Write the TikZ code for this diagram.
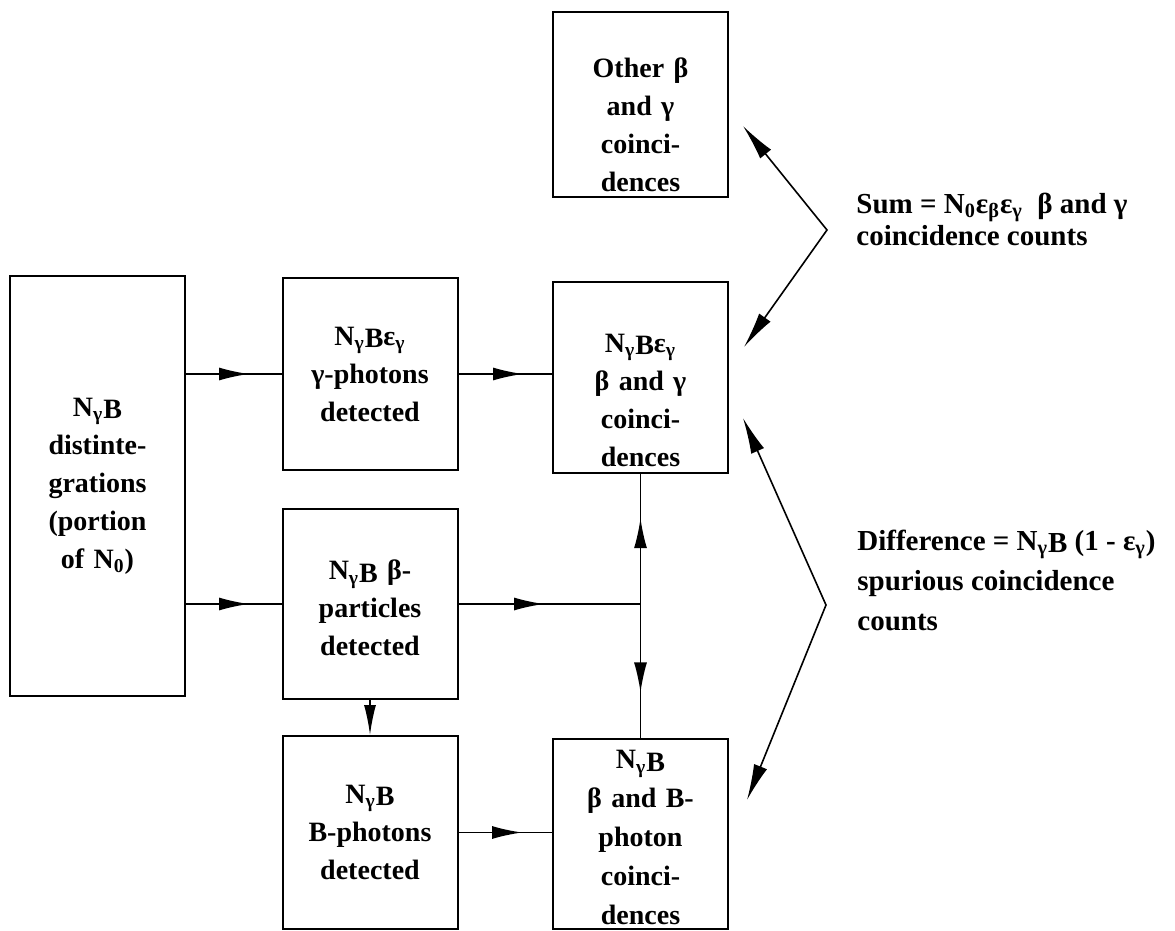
\documentclass[tikz,border=0pt]{standalone}
\usepackage{fontspec}
\setmainfont{Liberation Serif}
\usetikzlibrary{arrows.meta,decorations.markings}

\newcommand{\boxfont}{\bfseries\fontsize{14}{19}\selectfont}
\newcommand{\Ngb}{N\textsubscript{γ}\raisebox{-1.2pt}{B}}
\newcommand{\topgap}[1]{\rule{0pt}{#1}}

\begin{document}
\begin{tikzpicture}[x=0.5pt, y=-0.5pt,
  midarrow/.style={postaction={decorate}, decoration={markings,
    mark=at position #1 with {\arrow{Latex[length=15pt,width=6.5pt]}}}}]
\tikzstyle{block} = [rectangle, draw, line width=1pt, text width=83.5pt,
inner xsep=2pt, inner ysep=0pt, align=center, font=\boxfont]
\tikzstyle{note} = [anchor=west, align=left, inner sep=0pt]
\tikzstyle{line} = [draw, line width=0.8pt]
\tikzstyle{bracket} = [{Latex[length=18pt,width=7pt]}-{Latex[length=18pt,width=7pt]}]

\useasboundingbox (0,0) rectangle (1175,931);

% left column
\node [block, minimum height=210pt] (src) at (97.5,486)
  {\Ngb\\distinte-\\grations\\(portion\\of N\textsubscript{0})};
% middle column
\node [block, minimum height=96pt] (gdet) at (370,374)
  {\Ngb ε\textsubscript{γ}\\γ-photons\\detected};
\node [block, minimum height=95pt] (bdet) at (370,604)
  {\topgap{14pt}\Ngb\ β-\\particles\\detected};
\node [block, minimum height=96.5pt] (Bdet) at (370,832.5)
  {\Ngb\\B-photons\\detected};
% right column
\node [block, minimum height=92.5pt] (other) at (640.5,104.5)
  {\topgap{30pt}Other β\\and γ\\coinci-\\dences};
\node [block, minimum height=95.5pt] (bgc) at (640.5,377.5)
  {\topgap{32pt}\Ngb ε\textsubscript{γ}\\β and γ\\coinci-\\dences};
\node [block, minimum height=95pt, font=\bfseries\fontsize{14}{19.5}\selectfont] (bBc) at (640.5,834)
  {\topgap{13pt}\Ngb\\β and B-\\photon\\coinci-\\dences};

% sums
\node [note, font=\bfseries\fontsize{14.5}{16}\selectfont] (sum) at (856,219)
  {Sum = N\textsubscript{0}ε\textsubscript{β}ε\textsubscript{γ}\ \ β and γ\\coincidence counts};
\node [note, font=\bfseries\fontsize{14.5}{20}\selectfont] (diff) at (857,580)
  {Difference = \Ngb\ (1 - ε\textsubscript{γ})\\spurious coincidence\\counts};

\coordinate (jn) at (bgc.south |- bdet.east);
\coordinate (sumv) at (827,230);
\coordinate (sumup) at (743,126);
\coordinate (sumdn) at (744,347);
\coordinate (diffv) at (826,605);
\coordinate (diffup) at (743,418);
\coordinate (diffdn) at (747,800);

\tikzstyle{every path}=[line]
\path [midarrow=0.66] (src.east |- gdet.west) -- (gdet.west);
\path [midarrow=0.66] (src.east |- bdet.west) -- (bdet.west);
\path [midarrow=0.69] (gdet.east) -- (gdet.east -| bgc.west);
\path [midarrow=0.47] (bdet.east) -- (jn);
\path [midarrow=0.66] (jn) -- (bgc.south);
\path [midarrow=0.66] (jn) -- (bBc.north);
\path [-{Latex[length=15pt,width=6pt]}] (bdet) -- (Bdet);
\path [midarrow=0.68] (Bdet.east) -- (Bdet.east -| bBc.west);

\path [bracket] (sumup) -- (sumv) -- (sumdn);
\path [bracket] (diffup) -- (diffv) -- (diffdn);

\end{tikzpicture}
\end{document}
